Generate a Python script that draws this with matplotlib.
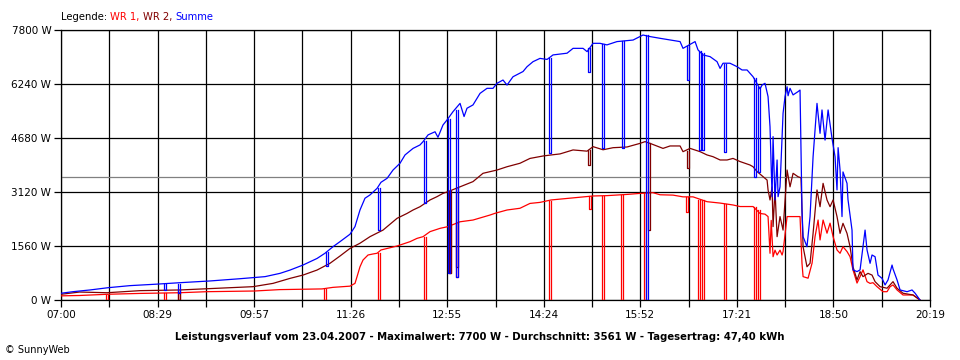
import matplotlib
matplotlib.use("Agg")
import numpy as np
from matplotlib import pyplot as plt
from matplotlib.offsetbox import TextArea, HPacker, AnchoredOffsetbox

# times in minutes after 07:00, power in W
t_wr1 = [0, 17, 42.3, 72.6, 109.4, 134, 178, 201, 240, 250, 265.7, 270.3, 272.2, 274.9,
         277.7, 282.3, 286.9, 290.6, 294.2, 309, 320.9, 327.3, 332.9, 339.3, 348.5, 355.8,
         366.9, 378.8, 394.5, 399.1, 410.1, 422, 431.2, 440.4, 450.6, 489.2, 502, 520.4,
         532.4, 544.3, 550.8, 562.7, 571.9, 581.1, 594, 606, 617.9, 624.3, 636.3, 642.7,
         647.3, 650.1, 651.9, 653.0, 654.7, 656.5, 658.4, 661.1, 663, 663.9, 667.6, 679.5,
         681.3, 682.3, 686.9, 690.6, 693.3, 696.1, 697.9, 700.7, 704.3, 707.1, 709.9, 713.5,
         716.3, 719, 722.7, 725.5, 728.2, 731.9, 734.7, 737.4, 741.1, 743.9, 746.6, 750.3,
         755.8, 759.5, 762.3, 765, 768.7, 774.2, 783.4, 789.8]
p_wr1 = [120, 130, 165, 190, 210, 240, 260, 300, 320, 365, 400, 480, 675, 960,
         1155, 1300, 1330, 1350, 1445, 1560, 1685, 1780, 1830, 1975, 2070, 2120,
         2260, 2310, 2455, 2505, 2600, 2650, 2790, 2820, 2890, 3005, 3015, 3050,
         3080, 3100, 3040, 3030, 2980, 2980, 2840, 2800, 2745, 2700, 2700, 2500,
         2480, 2410, 1350, 2300, 1250, 1440, 1300, 1440, 1300, 1400, 2410, 2410,
         1060, 675, 630, 1070, 1830, 2310, 1735, 2310, 1930, 2220, 1830, 1445,
         1350, 1540, 1400, 1250, 870, 490, 675, 870, 530, 480, 500, 385,
         240, 240, 385, 435, 290, 145, 145, 0]
# short drop-outs: time, lowest value, level before the drop
dip_t_wr1 = [41, 94.7, 107.6, 241.8, 291.5, 333.8, 356.8, 363.2, 448.7, 485.5, 497.4,
             514.9, 536.1, 574.7, 585.7, 589.4, 609.6, 637.2, 640.9]
dip_low_wr1 = [0, 0, 0, 0, 0, 0, 770, 675, 0, 2630, 0, 0, 0, 2550, 0, 0, 0, 0, 0]
dip_top_wr1 = [150, 195, 205, 320, 1350, 1830, 2150, 2230, 2850, 3000, 3010, 3040,
               3090, 2980, 2900, 2880, 2780, 2690, 2600]

t_wr2 = [0, 17, 42.3, 72.6, 109.4, 134, 176.5, 194.9, 210.6, 222.5, 235.4, 247.3, 256.5,
         265.7, 274.9, 284.1, 296.1, 309, 318.1, 323.7, 330.1, 339.3, 345.7, 351.2, 355.8,
         366.9, 378.8, 388, 400.9, 410.1, 422, 431.2, 443.2, 450.6, 458.8, 470.8, 483.7,
         489.2, 498.4, 507.6, 520.4, 532.4, 537, 541.6, 553.5, 560, 569.2, 571.9, 578.4,
         587.6, 594, 599.5, 606, 612.4, 617.9, 624.3, 633.5, 636.3, 640, 649.2, 650.1,
         651.9, 653.8, 654.7, 656.5, 658.4, 661.1, 663.9, 667.6, 670.3, 673.1, 677.7,
         680.4, 682.3, 685.9, 688.7, 691.5, 695.1, 697.9, 700.7, 704.3, 707.1, 709.9,
         713.5, 716.3, 719, 722.7, 725.5, 728.2, 731.9, 734.7, 737.4, 742, 745.7, 748.5,
         753.1, 759.5, 765, 768.7, 774.2, 783.4, 789.8]
p_wr2 = [165, 230, 210, 270, 290, 325, 385, 480, 625, 720, 865, 1060, 1270,
         1490, 1640, 1830, 2020, 2360, 2500, 2600, 2695, 2890, 2985, 3080, 3130,
         3270, 3420, 3660, 3755, 3850, 3950, 4090, 4160, 4190, 4220, 4335, 4300,
         4430, 4340, 4400, 4420, 4525, 4575, 4525, 4380, 4450, 4450, 4285, 4380,
         4285, 4190, 4140, 4045, 4045, 4090, 4000, 3900, 3850, 3710, 3465, 3180,
         2890, 3270, 2120, 3180, 1830, 2410, 2020, 3755, 3270, 3660, 3560,
         3530, 1540, 960, 1060, 1925, 3180, 2695, 3370, 2890, 2695, 2890,
         2410, 1925, 2215, 1925, 1540, 960, 580, 820, 675, 770, 720, 530,
         385, 340, 530, 340, 195, 145, 0]
dip_t_wr2 = [107.6, 356.8, 363.2, 484.6, 539.7, 575.6]
dip_low_wr2 = [0, 770, 960, 3900, 2020, 3810]
dip_top_wr2 = [280, 3140, 3230, 4320, 4550, 4300]

t_sum = [0, 11, 26.7, 43.2, 63.4, 86.4, 109.4, 137, 164.6, 187.6, 201.4, 210.6, 222.5,
         235.4, 242.7, 250.1, 256.5, 265.7, 270.3, 274.9, 279.5, 284.1, 290.6, 294.2, 299.8,
         305.3, 311.7, 316.3, 323.7, 330.1, 332.9, 337.5, 343.9, 346.6, 351.2, 354.9, 360.4,
         366.9, 370.6, 373.3, 378.8, 385.3, 391.7, 397.2, 400.9, 406.4, 410.1, 415.6, 424.8,
         428.5, 434, 440.4, 446.9, 452.4, 465.3, 470.8, 480, 483.7, 489.2, 495.6, 502, 511.2,
         526, 532.4, 535.1, 541.6, 550.8, 569.2, 571.9, 583, 585.7, 590.3, 596.8, 603.2, 606,
         608.7, 615.1, 621.6, 626.2, 630.8, 633.5, 636.3, 642.7, 644.6, 647.3, 650.1,
         651.9, 653.8, 654.7, 656.5, 658.4, 659.3, 661.1, 663, 663.9, 665.7, 667.6, 668.5,
         670.3, 673.1, 677.7, 679.5, 681.3, 682.3, 685.9, 688.7, 691.5, 695.1, 697.9,
         699.7, 702.5, 705.3, 708.9, 711.7, 713.5, 714.5, 716.3, 718.1, 719, 722.7, 723.6,
         727.3, 728.2, 731.9, 734.7, 737.4, 739.3, 741.1, 743.9, 745.7, 748.5, 751.2,
         754.9, 757.7, 760.4, 764.1, 765, 768.7, 771.5, 777.9, 782.5, 785.3, 789.8]
p_sum = [195, 240, 290, 355, 415, 455, 500, 550, 615, 675, 770, 865, 1010,
         1200, 1350, 1540, 1685, 1900, 2120, 2600, 2940, 3035, 3225, 3400, 3515,
         3755, 3950, 4190, 4380, 4480, 4575, 4770, 4860, 4700, 5055, 5200, 5440,
         5680, 5300, 5540, 5635, 5970, 6115, 6115, 6260, 6355, 6210, 6450, 6600,
         6740, 6885, 6980, 6950, 7080, 7130, 7270, 7270, 7175, 7415, 7415, 7370, 7465,
         7510, 7610, 7655, 7610, 7560, 7465, 7270, 7465, 7225, 7080, 7030, 6885, 6690,
         6840, 6840, 6740, 6645, 6645, 6550, 6450, 6100, 6210, 6260, 5875,
         5005, 2985, 4720, 2890, 4045, 2985, 3270, 4720, 5395, 5875, 6160, 5900,
         6115, 5925, 6020, 6065, 2600, 1830, 1540, 2410, 4140, 5680, 4815,
         5490, 4620, 5490, 4670, 4140, 3180, 4400, 3755, 2410, 3700, 3370, 2900,
         2020, 870, 820, 870, 1540, 2020, 1445, 1060, 1300, 1250, 720,
         625, 435, 580, 1010, 900, 580, 290, 240, 290, 195, 0]
dip_t_sum = [94.7, 107.6, 243.5, 291.5, 333.8, 355.8, 363.2, 448.7, 484.6, 497.4, 515.8,
             537.9, 575.6, 586.6, 589.4, 609.6, 637.2, 640.9]
dip_low_sum = [290, 195, 980, 2020, 2795, 770, 675, 4240, 6600, 4380, 4380,
               0, 6355, 4335, 4335, 4285, 3560, 3700]
dip_top_sum = [455, 470, 1380, 3250, 4600, 5220, 5500, 6980, 7280, 7400, 7470,
               7650, 7350, 7200, 7150, 6830, 6400, 6150]

average = 3561
y_ticks = [0, 1560, 3120, 4680, 6240, 7800]
x_labels = ["07:00", "08:29", "09:57", "11:26", "12:55", "14:24", "15:52", "17:21", "18:50", "20:19"]
t_end = 799
caption = ("Leistungsverlauf vom 23.04.2007 - Maximalwert: 7700 W - "
           "Durchschnitt: 3561 W - Tagesertrag: 47,40 kWh")

plt.rcParams['font.family'] = ['DejaVu Sans']

DIP_WIDTH = 2.0  # minutes between the down and the up stroke


def dip_path(times, lows, tops):
    xs, ys = [], []
    for t, lo, hi in zip(times, lows, tops):
        xs += [t, t, t + DIP_WIDTH, t + DIP_WIDTH, np.nan]
        ys += [hi, lo, lo, hi, np.nan]
    return xs, ys


fig = plt.figure(figsize=(9.6, 3.6), dpi=100)
ax = fig.add_axes([61 / 960, 60 / 360, 869 / 960, 270 / 360])

# grid
x_grid = np.linspace(0, t_end, 19)
for xg in x_grid:
    ax.axvline(xg, color='black', lw=0.9, zorder=1)
for yg in y_ticks:
    ax.axhline(yg, color='black', lw=0.9, zorder=1)
ax.axhline(average, color='#808080', lw=0.9, zorder=1)

series = [(t_wr1, p_wr1, dip_t_wr1, dip_low_wr1, dip_top_wr1, '#ff0000'),
          (t_wr2, p_wr2, dip_t_wr2, dip_low_wr2, dip_top_wr2, '#800000'),
          (t_sum, p_sum, dip_t_sum, dip_low_sum, dip_top_sum, '#0000ff')]
for t, p, dt, dl, dh, col in series:
    ax.plot(t, p, color=col, lw=0.9, zorder=3)
    dx, dy = dip_path(dt, dl, dh)
    ax.plot(dx, dy, color=col, lw=0.9, zorder=3)

ax.set_xlim(0, t_end)
ax.set_ylim(0, 7800)
for s in ax.spines.values():
    s.set_color('black')
    s.set_linewidth(0.9)

ax.set_xticks(x_grid)
ax.set_xticklabels([x_labels[i // 2] if i % 2 == 0 else "" for i in range(19)], fontsize=7.5)
ax.set_yticks(y_ticks)
ax.set_yticklabels([f"{v} W" for v in y_ticks], fontsize=7.5)
ax.tick_params(axis='both', length=5, width=0.9, color='black', pad=2)
ax.tick_params(axis='x', pad=2.5)

# legend line
parts = [TextArea("Legende: ", textprops=dict(color='black', fontsize=7.2)),
         TextArea("WR 1, ", textprops=dict(color='#ff0000', fontsize=7.2)),
         TextArea("WR 2, ", textprops=dict(color='#800000', fontsize=7.2)),
         TextArea("Summe", textprops=dict(color='#0000ff', fontsize=7.2))]
box = HPacker(children=parts, align="baseline", pad=0, sep=0)
anchored = AnchoredOffsetbox(loc='lower left', child=box, pad=0, frameon=False,
                             bbox_to_anchor=(61 / 960, 1 - 22 / 360),
                             bbox_transform=fig.transFigure, borderpad=0)
fig.add_artist(anchored)

fig.text(0.5, 1 - 337 / 360, caption, ha='center', va='center',
         fontsize=7.3, fontweight='bold')
fig.text(5 / 960, 1 - 350 / 360, "\u00a9 SunnyWeb", ha='left', va='center', fontsize=7)

fig.savefig("out.png", dpi=100, facecolor='white')
